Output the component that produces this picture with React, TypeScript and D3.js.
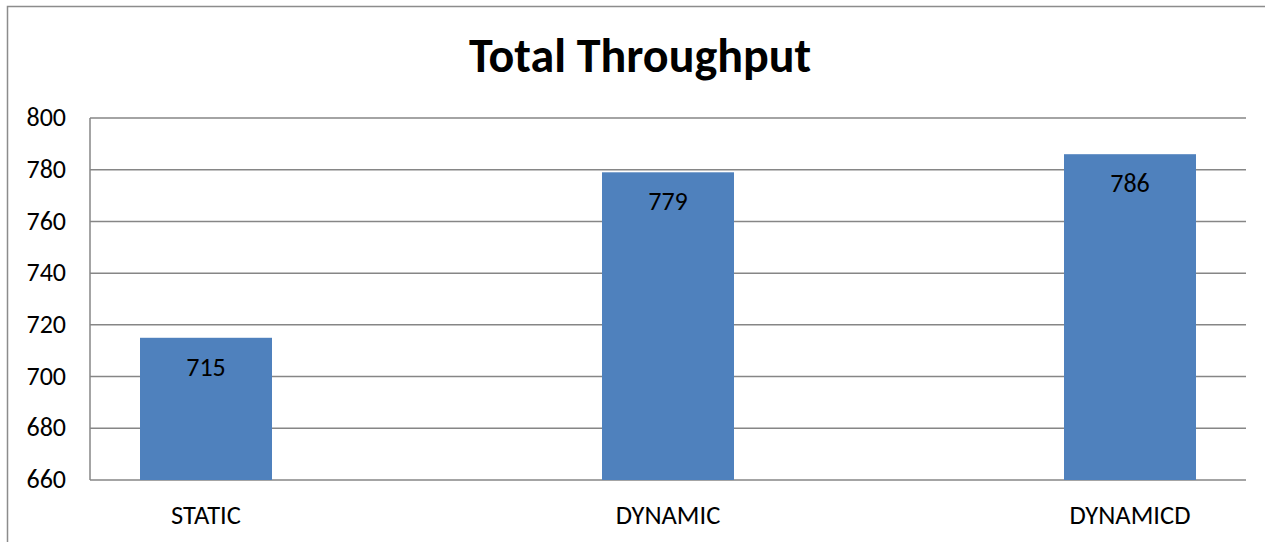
import React from "react";
import * as d3 from "d3";

const categories = ["STATIC", "DYNAMIC", "DYNAMICD"];
const throughput = [715, 779, 786];
const yTicks = [660, 680, 700, 720, 740, 760, 780, 800];
const chartTitle = "Total Throughput";

const W = 1265;
const H = 542;
const FONT = "Carlito, Calibri, 'Open Sans', 'Liberation Sans', sans-serif";

const App = () => {
  const plot = { left: 90, right: 1246, top: 118, bottom: 480 };

  const y = d3.scaleLinear().domain([660, 800]).range([plot.bottom, plot.top]);
  // bar centres (the chart is cut off at the right edge)
  const x = d3.scalePoint().domain(categories).range([206, 1130]);
  const barW = 132;

  return (
    <svg
      width={W}
      height={H}
      style={{ position: "absolute", left: 0, top: 0, background: "#fff" }}
      fontFamily={FONT}
    >
      {/* outer frame */}
      <rect x={7.5} y={6.5} width={W + 10} height={H + 10} fill="none" stroke="#8c8c8c" strokeWidth={1.5} />

      <text x={640} y={72} textAnchor="middle" fontSize={48} fontWeight="bold" fill="#000">
        {chartTitle}
      </text>

      {/* gridlines */}
      {yTicks.map((t) => (
        <g key={t}>
          <line x1={plot.left} x2={plot.right} y1={y(t)} y2={y(t)} stroke="#868686" strokeWidth={1.5} />
          <text x={66} y={y(t) - 1} dy="0.35em" textAnchor="end" fontSize={26} fill="#000">
            {t}
          </text>
        </g>
      ))}
      <line x1={plot.left} x2={plot.left} y1={plot.top} y2={plot.bottom} stroke="#868686" strokeWidth={1.5} />

      {categories.map((c, i) => {
        const cx = x(c) as number;
        const v = throughput[i];
        return (
          <g key={c}>
            <rect x={cx - barW / 2} y={y(v)} width={barW} height={plot.bottom - y(v)} fill="#4f81bd" />
            <text x={cx} y={y(v) + 29} dy="0.35em" textAnchor="middle" fontSize={26} fill="#000">
              {v}
            </text>
            <text x={cx} y={515} dy="0.35em" textAnchor="middle" fontSize={26.5} fill="#000">
              {c}
            </text>
          </g>
        );
      })}
    </svg>
  );
};

export default App;
